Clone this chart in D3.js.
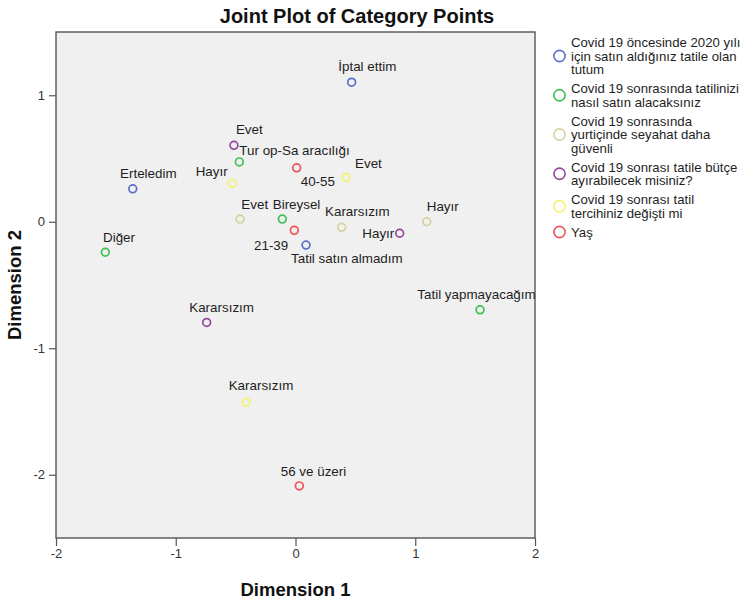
<!DOCTYPE html>
<html>
<head>
<meta charset="utf-8">
<script src="https://cdn.jsdelivr.net/npm/d3@7"></script>
<style>
  body { margin: 0; background: #fff; }
  svg { display: block; }
  text { font-family: "Liberation Sans", Arial, sans-serif; }
</style>
</head>
<body>
<script>
// Variables of the multiple correspondence analysis (legend text, one entry per line)
const variableNames = [
  ["Covid 19 öncesinde 2020 yılı", "için satın aldığınız tatile olan", "tutum"],
  ["Covid 19 sonrasında tatilinizi", "nasıl satın alacaksınız"],
  ["Covid 19 sonrasında", "yurtiçinde seyahat daha", "güvenli"],
  ["Covid 19 sonrası tatile bütçe", "ayırabilecek misiniz?"],
  ["Covid 19 sonrası tatil", "tercihiniz değişti mi"],
  ["Yaş"]
];
const variableColors = ["#5a70c8", "#3fc052", "#d6d29e", "#93489a", "#f6f26c", "#f05056"];

// Category points
const categoryNames = [
  "İptal ettim", "Erteledim", "Tatil satın almadım",
  "Tur op-Sa aracılığı", "Bireysel", "Diğer", "Tatil yapmayacağım",
  "Evet", "Kararsızım", "Hayır",
  "Evet", "Hayır", "Kararsızım",
  "Hayır", "Evet", "Kararsızım",
  "40-55", "21-39", "56 ve üzeri"
];
const categoryVariable = [0, 0, 0, 1, 1, 1, 1, 2, 2, 2, 3, 3, 3, 4, 4, 4, 5, 5, 5];
const dimension1 = [0.469, -1.359, 0.088, -0.469, -0.110, -1.588, 1.541, -0.463, 0.386, 1.096,
                    -0.514, 0.870, -0.742, -0.528, 0.422, -0.411, 0.010, -0.010, 0.032];
const dimension2 = [1.103, 0.260, -0.184, 0.473, 0.021, -0.241, -0.696, 0.021, -0.044, 0.000,
                    0.604, -0.091, -0.796, 0.303, 0.350, -1.426, 0.426, -0.068, -2.088];

const xTicks = [-2, -1, 0, 1, 2];
const yTicks = [-2, -1, 0, 1];

// Label placement relative to each point (text start, baseline), in pixels
const labelOffsets = [
  [-13.4, -11.7], [-12.7, -10.7], [-15, 17.7],
  [0, -7.4], [-9.6, -10], [-2.3, -10.3], [-62.7, -10.7],
  [1.3, -10], [-16.7, -11.6], [0, -10.7],
  [2, -11], [-37.4, 5], [-17.4, -10],
  [-36.6, -7.6], [9, -9.6], [-17.6, -12],
  [4, 18], [-40.3, 19.7], [-18.6, -10]
];

const W = 745, H = 600;
const frame = { left: 56, right: 535, top: 32, bottom: 538 };

const svg = d3.select("body").append("svg").attr("width", W).attr("height", H);

const x = d3.scaleLinear().domain([-2, 2]).range([frame.left, frame.right]);
const y = d3.scaleLinear().domain([-2.5, 1.5]).range([frame.bottom, frame.top]);

// Plot background
svg.append("rect")
  .attr("x", frame.left).attr("y", frame.top)
  .attr("width", frame.right - frame.left).attr("height", frame.bottom - frame.top)
  .attr("fill", "#f0f0f0");

svg.append("clipPath").attr("id", "plotClip")
  .append("rect")
  .attr("x", frame.left).attr("y", frame.top)
  .attr("width", frame.right - frame.left).attr("height", frame.bottom - frame.top);

// Axes (plain hyphen for negative numbers)
const fmt = d => String(d);
const xAxis = svg.append("g")
  .attr("transform", `translate(0,${frame.bottom})`)
  .call(d3.axisBottom(x).tickValues(xTicks).tickSize(8).tickPadding(3).tickFormat(fmt));
const yAxis = svg.append("g")
  .attr("transform", `translate(${frame.left},0)`)
  .call(d3.axisLeft(y).tickValues(yTicks).tickSize(7).tickPadding(4).tickFormat(fmt));

[xAxis, yAxis].forEach(a => {
  a.select(".domain").remove();
  a.selectAll(".tick line").attr("stroke", "#555").attr("stroke-width", 1.2);
  a.selectAll(".tick text")
    .attr("fill", "#333")
    .style("font-family", '"Liberation Sans", Arial, sans-serif')
    .style("font-size", "13px");
});

// Frame
svg.append("rect")
  .attr("x", frame.left).attr("y", frame.top)
  .attr("width", frame.right - frame.left).attr("height", frame.bottom - frame.top)
  .attr("fill", "none").attr("stroke", "#555").attr("stroke-width", 1.4);

// Category points and labels
const pts = svg.append("g").attr("clip-path", "url(#plotClip)");
const idx = d3.range(categoryNames.length);

pts.selectAll("circle.pt").data(idx).join("circle")
  .attr("class", "pt")
  .attr("cx", i => x(dimension1[i]))
  .attr("cy", i => y(dimension2[i]))
  .attr("r", 3.9)
  .attr("fill", "none")
  .attr("stroke", i => variableColors[categoryVariable[i]])
  .attr("stroke-width", 1.7);

pts.selectAll("text.lbl").data(idx).join("text")
  .attr("class", "lbl")
  .attr("x", i => x(dimension1[i]) + labelOffsets[i][0])
  .attr("y", i => y(dimension2[i]) + labelOffsets[i][1])
  .attr("fill", "#1e1e1e")
  .style("font-size", "13.4px")
  .text(i => categoryNames[i]);

// Titles
svg.append("text")
  .attr("x", 357).attr("y", 23)
  .attr("text-anchor", "middle")
  .style("font-size", "20px").style("font-weight", "bold")
  .attr("fill", "#111")
  .text("Joint Plot of Category Points");

svg.append("text")
  .attr("x", (frame.left + frame.right) / 2).attr("y", 596)
  .attr("text-anchor", "middle")
  .style("font-size", "18.5px").style("font-weight", "bold")
  .attr("fill", "#111")
  .text("Dimension 1");

svg.append("text")
  .attr("transform", `translate(21,${(frame.top + frame.bottom) / 2}) rotate(-90)`)
  .attr("text-anchor", "middle")
  .style("font-size", "18.5px").style("font-weight", "bold")
  .attr("fill", "#111")
  .text("Dimension 2");

// Legend
const legend = svg.append("g");
const lineH = 13.5, itemGap = 5.5;
let cy = 42.5;
variableNames.forEach((lines, k) => {
  const first = cy;
  lines.forEach((t, j) => {
    legend.append("text")
      .attr("x", 571).attr("y", cy + j * lineH)
      .attr("dy", "0.35em")
      .attr("fill", "#1e1e1e")
      .style("font-size", "13.2px")
      .text(t);
  });
  const last = cy + (lines.length - 1) * lineH;
  legend.append("circle")
    .attr("cx", 559.5).attr("cy", (first + last) / 2)
    .attr("r", 5.6)
    .attr("fill", "none")
    .attr("stroke", variableColors[k])
    .attr("stroke-width", 1.6);
  cy = last + lineH + itemGap;
});
</script>
</body>
</html>
